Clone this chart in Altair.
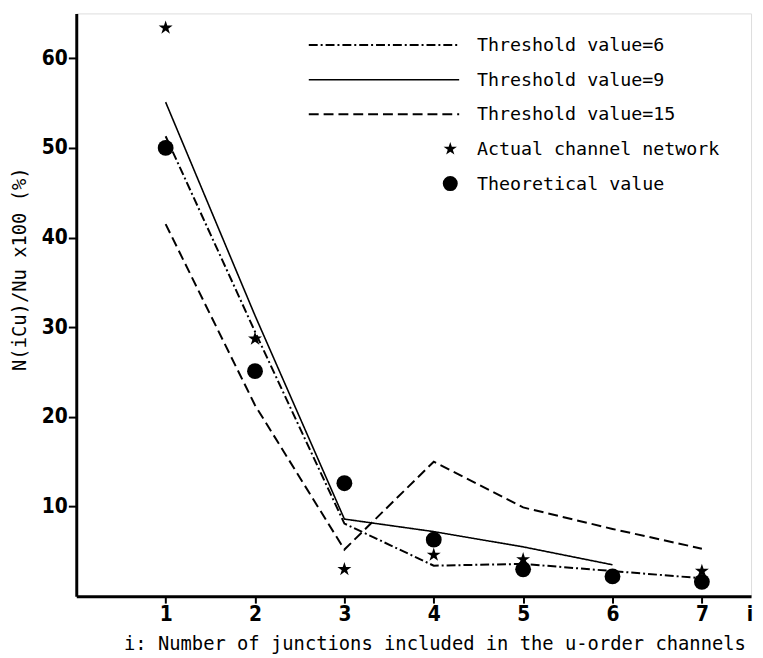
import altair as alt
import pandas as pd

# ---- data ----
junctions = [1, 2, 3, 4, 5, 6, 7]
threshold6 = [51.3, 29.5, 8.1, 3.4, 3.6, 2.8, 2.0]
junctions9 = [1, 2, 3, 4, 5, 6]
threshold9 = [55.1, 31.3, 8.6, 7.2, 5.5, 3.5]
threshold15 = [41.5, 21.3, 5.2, 15.0, 9.9, 7.5, 5.3]
actual_x = [1, 2, 3, 4, 5, 7]
actual = [63.4, 28.7, 3.0, 4.6, 4.1, 2.8]
theoretical = [50.0, 25.1, 12.6, 6.3, 3.0, 2.2, 1.6]
x_ticks = [1, 2, 3, 4, 5, 6, 7]
y_ticks = [10, 20, 30, 40, 50, 60]
legend_labels = ["Threshold value=6", "Threshold value=9", "Threshold value=15",
                 "Actual channel network", "Theoretical value"]

df6 = pd.DataFrame({"i": junctions, "v": threshold6})
df9 = pd.DataFrame({"i": junctions9, "v": threshold9})
df15 = pd.DataFrame({"i": junctions, "v": threshold15})
dfa = pd.DataFrame({"i": actual_x, "v": actual})
dft = pd.DataFrame({"i": junctions, "v": theoretical})

STAR = "M0,-1L0.2245,-0.309L0.951,-0.309L0.363,0.118L0.588,0.809L0,0.382L-0.588,0.809L-0.363,0.118L-0.951,-0.309L-0.2245,-0.309Z"
TICKFONT = "Liberation Sans Narrow, DejaVu Sans Condensed, Roboto Condensed, Arial Narrow, Liberation Sans, sans-serif"
MONO = "DejaVu Sans Mono"

W, H = 682, 589

xs = alt.Scale(domain=[0, 7.55], nice=False, zero=False)
ys = alt.Scale(domain=[0, 65], nice=False)

xax = alt.Axis(values=x_ticks, format="d", grid=False, domainWidth=3, domainColor="black",
               tickColor="black", tickWidth=2, tickSize=7, labelFont=TICKFONT,
               labelFontWeight="bold", labelFontSize=21, labelColor="black",
               labelPadding=1, title="i: Number of junctions included in the u-order channels",
               titleFont=MONO, titleFontSize=19, titleFontWeight="normal",
               titleColor="black", titleX=362, titleY=48, titleAlign="center",
               titleBaseline="middle", titleAnchor="start")
yax = alt.Axis(values=y_ticks, format="d", grid=False, domainWidth=3, domainColor="black",
               tickColor="black", tickWidth=2, tickSize=8, labelFont=TICKFONT,
               labelFontWeight="bold", labelFontSize=21, labelColor="black",
               labelPadding=1, title="N(iCu)/Nu x100 (%)",
               titleFont=MONO, titleFontSize=19, titleFontWeight="normal",
               titleColor="black", titleX=-57, titleY=258, titleAlign="center",
               titleBaseline="middle", titleAnchor="start", titleAngle=270)

def line(df, dash, width=2.0, axes=False):
    m = alt.Chart(df).mark_line(color="black", strokeWidth=width, strokeDash=dash)
    if axes:
        return m.encode(x=alt.X("i:Q", scale=xs, axis=xax), y=alt.Y("v:Q", scale=ys, axis=yax))
    return m.encode(x=alt.X("i:Q", scale=xs), y=alt.Y("v:Q", scale=ys))

l6 = line(df6, [9, 3, 2, 3], 2.0, axes=True)
l9 = line(df9, [1, 0], 1.6)
l15 = line(df15, [10, 5], 2.0)

stars = alt.Chart(dfa).mark_point(shape=STAR, filled=True, color="black", size=220, opacity=1).encode(
    x=alt.X("i:Q", scale=xs), y=alt.Y("v:Q", scale=ys))
dots = alt.Chart(dft).mark_point(shape="circle", filled=True, color="black", size=256, opacity=1).encode(
    x=alt.X("i:Q", scale=xs), y=alt.Y("v:Q", scale=ys))

# ---- manual legend ----
rows = [32, 67, 102, 137, 172]
lx1, lx2, tx = 235, 387, 405
one = pd.DataFrame({"k": [0]})
legend = []
for dash, w, ry in [([9, 3, 2, 3], 2.0, rows[0]), ([1, 0], 1.6, rows[1]), ([10, 5], 2.0, rows[2])]:
    legend.append(alt.Chart(one).mark_rule(color="black", strokeWidth=w, strokeDash=dash).encode(
        x=alt.value(lx1), x2=alt.value(lx2), y=alt.value(ry)))
legend.append(alt.Chart(one).mark_point(shape=STAR, filled=True, color="black", size=200, opacity=1).encode(
    x=alt.value(378), y=alt.value(rows[3])))
legend.append(alt.Chart(one).mark_point(shape="circle", filled=True, color="black", size=230, opacity=1).encode(
    x=alt.value(378), y=alt.value(rows[4])))
for lab, ry in zip(legend_labels, rows):
    legend.append(alt.Chart(one).mark_text(text=lab, font=MONO, fontSize=18.5, align="left",
                                           baseline="middle", color="black").encode(
        x=alt.value(tx), y=alt.value(ry)))

iletter = alt.Chart(one).mark_text(text="i", font=TICKFONT, fontWeight="bold", fontSize=21,
                                   align="center", baseline="top", color="black").encode(
    x=alt.value(681), y=alt.value(H + 8))

chart = alt.layer(l6, l9, l15, stars, dots, iletter, *legend).properties(
    width=W, height=H,
    autosize=alt.AutoSizeParams(type="none"),
    padding={"left": 69, "top": 2, "right": 4, "bottom": 58},
).configure_view(stroke=None).configure(background="white")

chart.save("out.html", embed_options={"renderer": "svg", "actions": False})
